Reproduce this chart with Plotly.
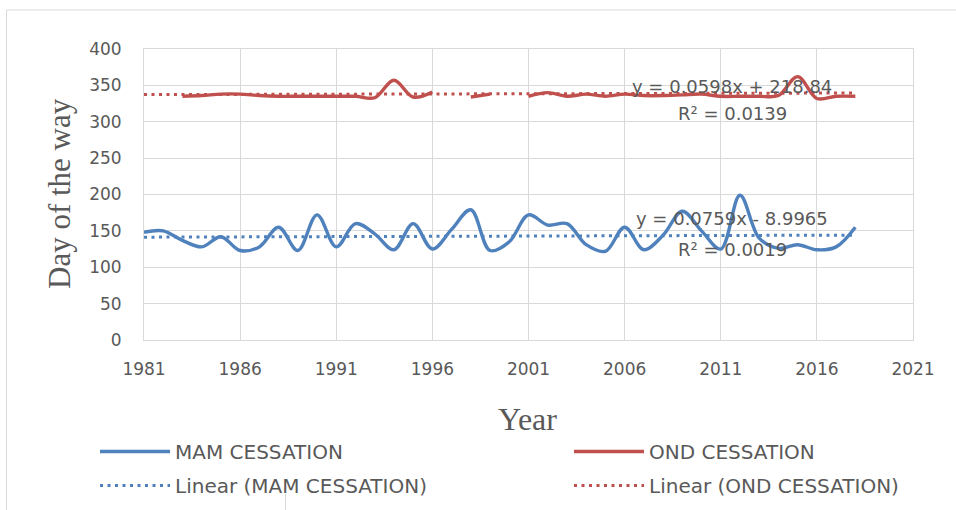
import plotly.graph_objects as go

# Cessation day of year for the two rainy seasons, 1981-2018
years = list(range(1981, 2019))

mam_cessation = [
    148, 150, 137, 128, 142, 123, 128, 155, 123, 172,
    128, 160, 146, 124, 160, 125, 152, 179, 123, 135,
    172, 158, 160, 131, 122, 155, 124, 144, 177, 150,
    125, 199, 140, 126, 131, 124, 128, 155,
]

ond_cessation = [
    None, None, 335, 336, 338, 338, 336, 335, 335, 335,
    335, 335, 333, 357, 334, 341, None, 334, 338, None,
    335, 340, 335, 338, 335, 338, 336, 336, 337, 338,
    335, 335, 335, 336, 362, 332, 335, 335,
]

# Linear trend coefficients (slope, intercept) and R²
mam_fit = (0.0759, -8.9965, 0.0019)
ond_fit = (0.0598, 218.84, 0.0139)

x_ticks = [1981, 1986, 1991, 1996, 2001, 2006, 2011, 2016, 2021]
y_ticks = [0, 50, 100, 150, 200, 250, 300, 350, 400]

BLUE = "#4F81BD"
RED = "#C0504D"
GRID = "#D9D9D9"
TEXT = "#595959"
SANS = "DejaVu Sans"
SERIF = "Liberation Serif"

W, H = 956, 510
ML, MR, MT, MB = 144, 43, 49, 170
pw = W - ML - MR
ph = H - MT - MB


def px_x(px):
    return (px - ML) / pw


def px_y(py):
    return (H - MB - py) / ph


def trend(fit):
    a, b, _ = fit
    return [a * yr + b for yr in years]


def eq_label(fit):
    a, b, _ = fit
    sign = "+" if b >= 0 else "-"
    return f"y = {a:g}x {sign} {abs(b):g}"


fig = go.Figure()

fig.add_trace(go.Scatter(
    x=years, y=mam_cessation, name="MAM CESSATION", mode="lines",
    legend="legend", legendgroup="a",
    line=dict(color=BLUE, width=3.4, shape="spline", smoothing=1.0),
))
fig.add_trace(go.Scatter(
    x=years, y=ond_cessation, name="OND CESSATION", mode="lines",
    legend="legend2", legendgroup="c", connectgaps=False,
    line=dict(color=RED, width=3.4, shape="spline", smoothing=1.0),
))
fig.add_trace(go.Scatter(
    x=years, y=trend(mam_fit), name="Linear (MAM CESSATION)", mode="lines",
    legend="legend", legendgroup="b",
    line=dict(color=BLUE, width=3, dash="3px,4.5px"),
))
fig.add_trace(go.Scatter(
    x=years, y=trend(ond_fit), name="Linear (OND CESSATION)", mode="lines",
    legend="legend2", legendgroup="d",
    line=dict(color=RED, width=3, dash="3px,4.5px"),
))

annotations = []
for fit, y_eq, y_r2 in ((ond_fit, 349, 312), (mam_fit, 167, 125)):
    annotations.append(dict(
        x=2011.6, y=y_eq, xref="x", yref="y", text=eq_label(fit),
        xanchor="center", yanchor="middle",
        showarrow=False, font=dict(family=SANS, size=18, color=TEXT),
    ))
    annotations.append(dict(
        x=2011.6, y=y_r2, xref="x", yref="y", text=f"R² = {fit[2]:.4f}",
        xanchor="center", yanchor="middle",
        showarrow=False, font=dict(family=SANS, size=18, color=TEXT),
    ))

annotations.append(dict(
    x=px_x(59), y=px_y(194), xref="paper", yref="paper", text="Day of the way",
    xanchor="center", yanchor="middle", textangle=-90, showarrow=False,
    font=dict(family=SERIF, size=31, color=TEXT),
))
annotations.append(dict(
    x=px_x(527), y=px_y(419), xref="paper", yref="paper", text="Year",
    xanchor="center", yanchor="middle", showarrow=False,
    font=dict(family=SERIF, size=32, color=TEXT),
))

shapes = [
    dict(type="rect", xref="paper", yref="paper",
         x0=px_x(6.5), x1=px_x(990), y0=px_y(10), y1=px_y(540),
         line=dict(color=GRID, width=1), layer="below"),
    dict(type="line", xref="paper", yref="paper",
         x0=px_x(285.5), x1=px_x(285.5), y0=px_y(494), y1=px_y(512),
         line=dict(color=GRID, width=1)),
]

legend_style = dict(
    orientation="v", yanchor="top", xanchor="left", y=px_y(432),
    itemwidth=70, tracegroupgap=5, bgcolor="rgba(0,0,0,0)",
    font=dict(family=SANS, size=20, color=TEXT),
)

fig.update_layout(
    width=W, height=H,
    margin=dict(l=ML, r=MR, t=MT, b=MB, autoexpand=False),
    paper_bgcolor="white", plot_bgcolor="white",
    font=dict(family=SANS, size=18, color=TEXT),
    showlegend=True,
    legend=dict(x=px_x(95), **legend_style),
    legend2=dict(x=px_x(569), **legend_style),
    annotations=annotations,
    shapes=shapes,
    xaxis=dict(
        range=[1981, 2021], tickvals=x_ticks, ticktext=[str(v) for v in x_ticks],
        showgrid=True, gridcolor=GRID, gridwidth=1,
        showline=True, linecolor=GRID, linewidth=1, mirror=True,
        zeroline=False, ticks="", ticklabelstandoff=14,
        tickfont=dict(family=SANS, size=17, color=TEXT),
    ),
    yaxis=dict(
        range=[0, 400], tickvals=y_ticks,
        showgrid=True, gridcolor=GRID, gridwidth=1,
        showline=True, linecolor=GRID, linewidth=1, mirror=True,
        zeroline=False, ticks="", ticklabelstandoff=18,
        tickfont=dict(family=SANS, size=17, color=TEXT),
    ),
)

fig.write_html("out.html")
